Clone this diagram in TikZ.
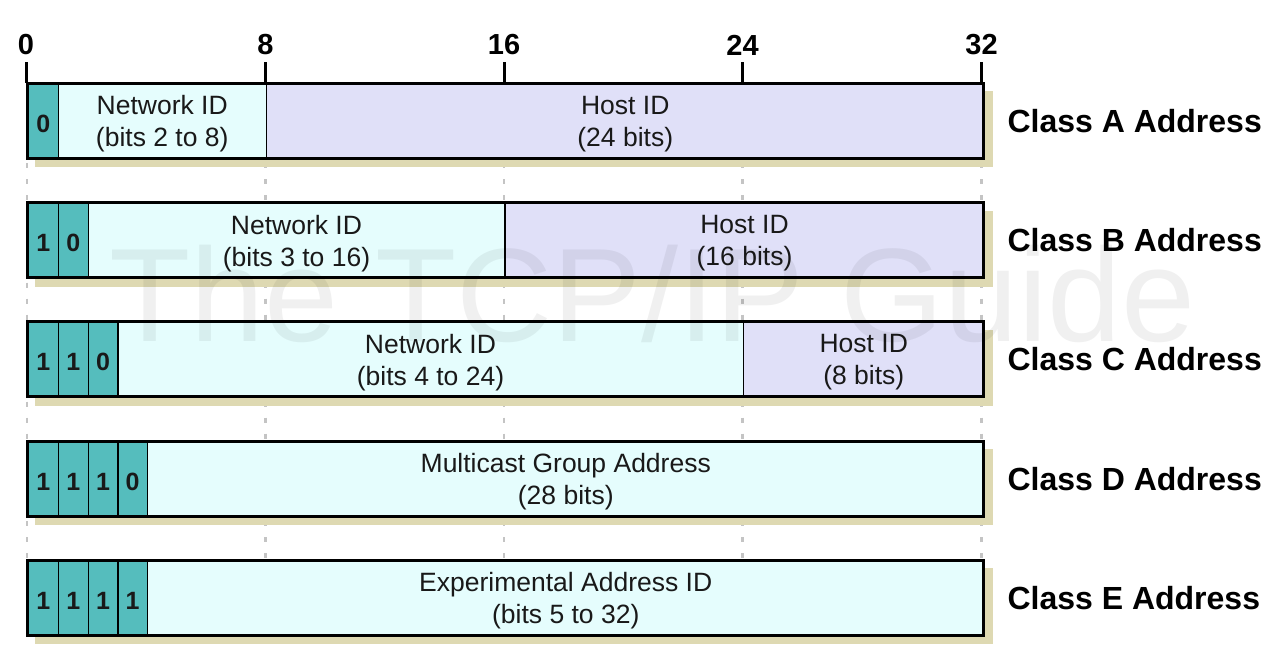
\documentclass[tikz,border=0pt]{standalone}
\usepackage{fontspec}
\setmainfont{Liberation Sans}
\definecolor{bitc}{HTML}{55BDBD}
\definecolor{netc}{HTML}{E5FDFD}
\definecolor{hostc}{HTML}{E0E0F8}
\definecolor{shadc}{HTML}{DED9B2}
\definecolor{dotc}{HTML}{C4C4C4}
\newcommand\fld[6]{\node[#2,minimum width={#4-#3},anchor=north west] (#1) at (#3,#5) {};
  \node[#2 text] (#1t) at ([yshift=-2.5pt]#1.center) {#6};}
\begin{document}
\begin{tikzpicture}[x=1pt,y=-1pt,
  cellbase/.style={draw=black,line width=1.5pt,minimum height=75pt,inner sep=0pt},
  bitbox/.style={cellbase,fill=bitc},
  netbox/.style={cellbase,fill=netc},
  hostbox/.style={cellbase,fill=hostc},
  bitbox text/.style={inner sep=0pt,text=black!90,font=\fontsize{25}{25}\selectfont\bfseries},
  netbox text/.style={inner sep=0pt,text=black!90,align=center,font=\fontsize{26.5}{32}\selectfont},
  hostbox text/.style={netbox text},
  outer/.style={draw=black,line width=3pt},
  shadow/.style={fill=shadc},
  classlab/.style={anchor=west,font=\fontsize{32}{33}\selectfont\bfseries},
  bitlab/.style={font=\fontsize{29}{29}\selectfont\bfseries},
  tick/.style={line width=3pt},
  guide/.style={dotc,line width=2.5pt,dash pattern=on 5pt off 11pt,dash phase=-3pt}]
\useasboundingbox (0,0) rectangle (1280,670);
\fill[white] (0,0) rectangle (1280,670);
% bit labels and ticks
\foreach \n/\b/\x in {t0/0/26,t8/8/265.5,t16/16/504,t24/24/742.5,t32/32/981.5}{
  \node[bitlab] (\n) at (\x,45) {\b};
  \coordinate (\n a) at (\x,62);
  \coordinate (\n b) at (\x,83);
  \draw[tick] (\n a) -- (\n b);
}
% dotted guides between rows
\foreach \yt in {160,279.5,398.5,518}{
  \foreach \x in {27,265.5,504,742.5,981.5}{
    \coordinate (ga) at (\x,\yt);
    \coordinate (gb) at (\x,\yt+42);
    \draw[guide] (ga) -- (gb);
  }
}
% shadows
\foreach \yt in {83,202.5,321.5,441,560}{
  \fill[shadow] (35,\yt+8) rectangle (993,\yt+84);
}
% Class A
\fld{a1}{bitbox}{27.5}{57.5}{83}{0}
\fld{a2}{netbox}{57.5}{265.5}{83}{Network ID\\(bits 2 to 8)}
\fld{a3}{hostbox}{265.5}{983.5}{83}{Host ID\\(24 bits)}
\draw[outer] (27.5,83) rectangle (983.5,158);
\node[classlab] (ca) at (1004,121) {Class A Address};
% Class B
\fld{b1}{bitbox}{27.5}{57.5}{202.5}{1}
\fld{b2}{bitbox}{57.5}{87.5}{202.5}{0}
\fld{b3}{netbox}{87.5}{504}{202.5}{Network ID\\(bits 3 to 16)}
\fld{b4}{hostbox}{504}{983.5}{202.5}{Host ID\\(16 bits)}
\draw[outer] (27.5,202.5) rectangle (983.5,277.5);
\node[classlab] (cb) at (1004,240.5) {Class B Address};
% Class C
\fld{c1}{bitbox}{27.5}{57.5}{321.5}{1}
\fld{c2}{bitbox}{57.5}{87.5}{321.5}{1}
\fld{c3}{bitbox}{87.5}{117}{321.5}{0}
\fld{c4}{netbox}{117}{742.5}{321.5}{Network ID\\(bits 4 to 24)}
\fld{c5}{hostbox}{742.5}{983.5}{321.5}{Host ID\\(8 bits)}
\draw[outer] (27.5,321.5) rectangle (983.5,396.5);
\node[classlab] (cc) at (1004,359.5) {Class C Address};
% Class D
\fld{d1}{bitbox}{27.5}{57.5}{441}{1}
\fld{d2}{bitbox}{57.5}{87.5}{441}{1}
\fld{d3}{bitbox}{87.5}{117}{441}{1}
\fld{d4}{bitbox}{117}{146.5}{441}{0}
\fld{d5}{netbox}{146.5}{983.5}{441}{Multicast Group Address\\(28 bits)}
\draw[outer] (27.5,441) rectangle (983.5,516);
\node[classlab] (cd) at (1004,479) {Class D Address};
% Class E
\fld{e1}{bitbox}{27.5}{57.5}{560}{1}
\fld{e2}{bitbox}{57.5}{87.5}{560}{1}
\fld{e3}{bitbox}{87.5}{117}{560}{1}
\fld{e4}{bitbox}{117}{146.5}{560}{1}
\fld{e5}{netbox}{146.5}{983.5}{560}{Experimental Address ID\\(bits 5 to 32)}
\draw[outer] (27.5,560) rectangle (983.5,635);
\node[classlab] (ce) at (1004,598) {Class E Address};
% watermark
\node[anchor=base west,inner sep=0pt,font=\fontsize{133}{133}\selectfont,text=black,text opacity=0.06] (wm) at (109,341) {The TCP/IP Guide};
\end{tikzpicture}
\end{document}
